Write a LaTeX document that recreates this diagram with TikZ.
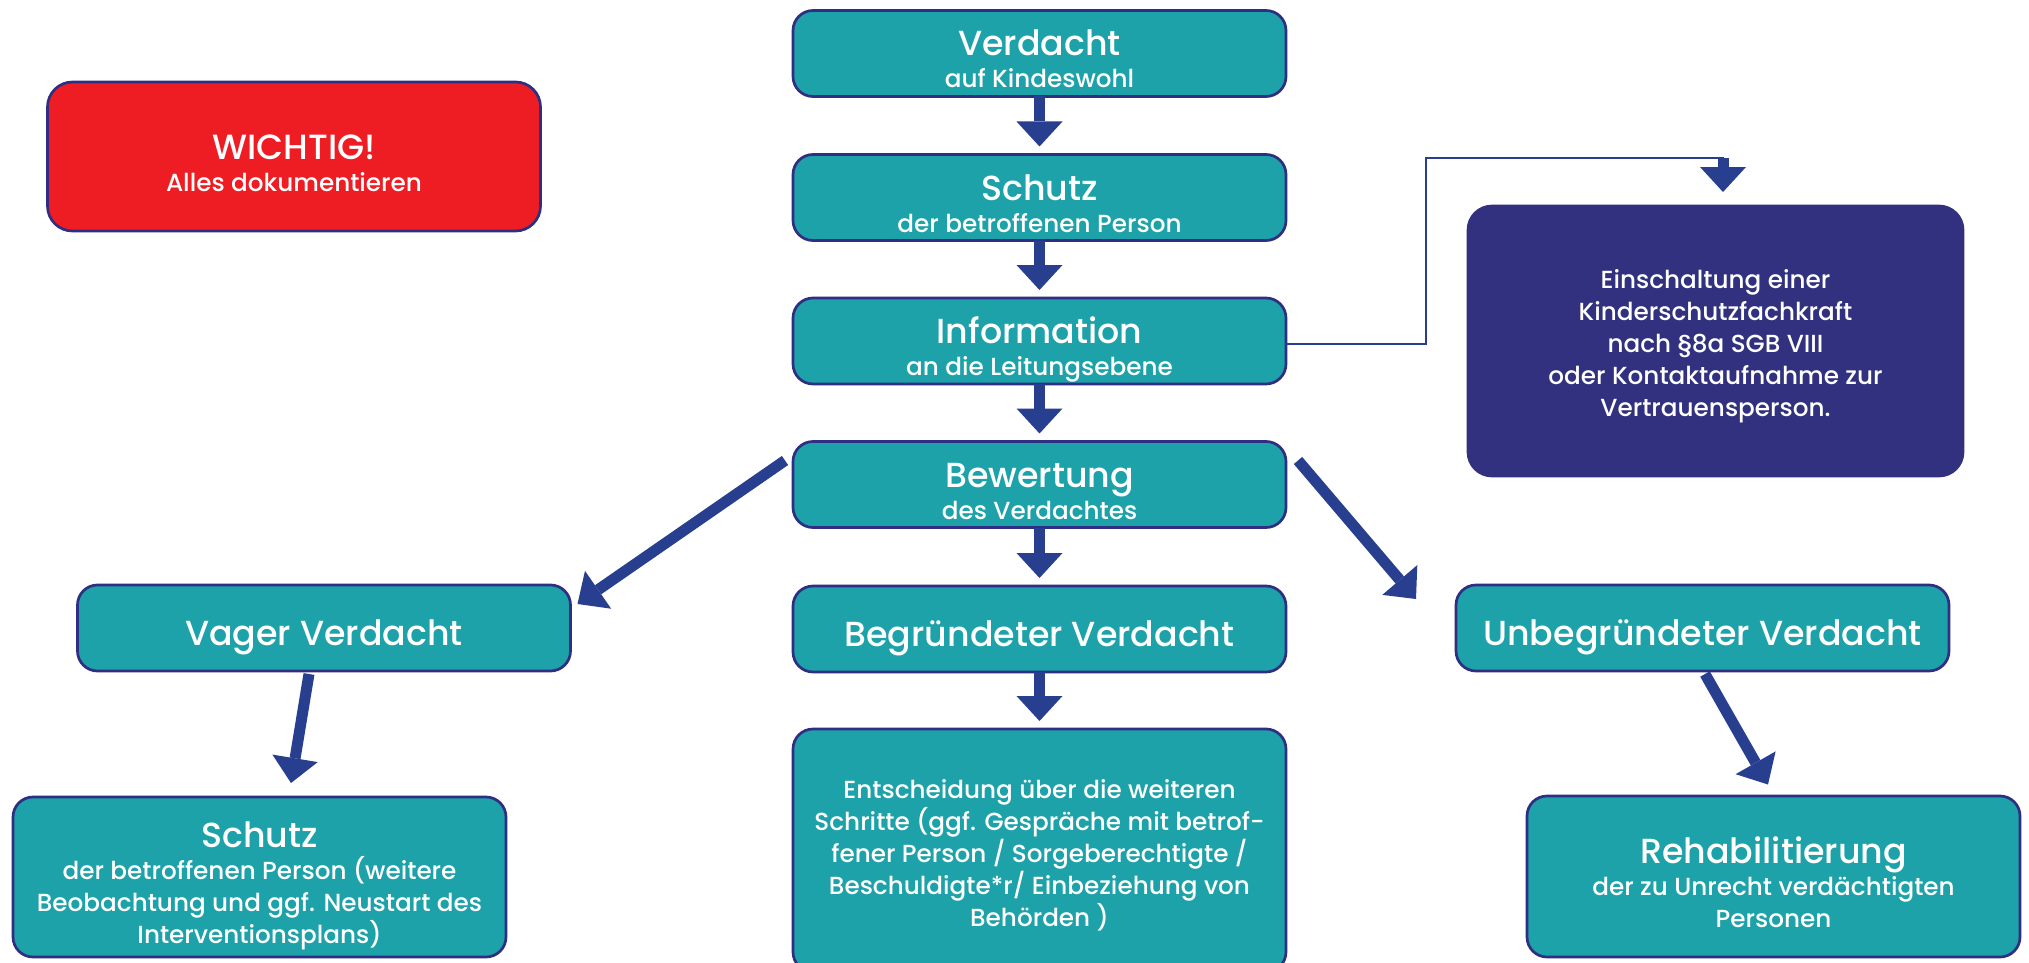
\documentclass[tikz,border=0pt]{standalone}
\usepackage{fontspec}
\IfFontExistsTF{Poppins Medium}{%
  \setmainfont{Poppins Medium}
  \newcommand\bigsz{34.8}\newcommand\smsz{24.7}\newcommand\wsz{35}}{%
  \setmainfont{Poppins}
  \newcommand\bigsz{35.6}\newcommand\smsz{25.3}\newcommand\wsz{36}}
\usetikzlibrary{arrows.meta}
\definecolor{tealbox}{RGB}{29,162,170}
\definecolor{navyline}{RGB}{46,46,130}
\definecolor{arrowblue}{RGB}{40,62,143}
\definecolor{darkbox}{RGB}{49,49,128}
\definecolor{redbox}{RGB}{238,29,36}
\newcommand\bigt{\fontsize{\bigsz}{32}\selectfont}
\newcommand\Tb{\rule{0pt}{44pt}}
\newcommand\Ts{\rule{0pt}{30pt}}
\newcommand\Bt{\rule[-7pt]{0pt}{7pt}}
\begin{document}
\begin{tikzpicture}[x=1pt,y=-1pt,
 box/.style={draw=navyline,line width=2.7pt,fill=tealbox,rounded corners=20pt,text=white,align=center,inner sep=0pt,outer sep=0pt,minimum width=493pt,minimum height=86pt,font=\fontsize{\smsz}{32}\selectfont},
 arr/.style={draw=arrowblue,line width=11pt,-{Triangle[width=46pt,length=25pt,line width=0pt]}},
 wire/.style={draw=arrowblue,line width=2.4pt}]
\clip (0,0) rectangle (2029,963);
\fill[white] (0,0) rectangle (2029,963);
% central column
\node[box] (verd) at (1039.5,53.5) {{\Tb\bigt Verdacht}\\auf Kindeswohl\Bt};
\node[box] (schutzA) at (1039.5,197.5) {{\Tb\bigt Schutz}\\der betroffenen Person\Bt};
\node[box] (info) at (1039.5,341) {{\Tb\bigt Information}\\an die Leitungsebene\Bt};
\node[box] (bew) at (1039.5,484.5) {{\Tb\bigt Bewertung}\\des Verdachtes\Bt};
\node[box] (begr) at (1039.5,629) {\Tb\bigt Begründeter Verdacht\Bt};
\node[box,minimum height=243pt] (ents) at (1039.5,850.5) {\Ts Entscheidung über die weiteren\\Schritte (ggf. Gespräche mit betrof-\\fener Person / Sorgeberechtigte /\\Beschuldigte*r/ Einbeziehung von\\Behörden )\Bt};
% left column
\node[box,fill=redbox,rounded corners=25pt,minimum height=149pt] (wichtig) at (294,156.5) {{\Tb\fontsize{\wsz}{32}\selectfont WICHTIG!}\\Alles dokumentieren\Bt};
\node[box] (vager) at (324,628) {\Tb\bigt Vager Verdacht\Bt};
\node[box,minimum height=160pt] (schutzB) at (259.5,877) {{\Tb\bigt Schutz}\\der betroffenen Person (weitere\\Beobachtung und ggf. Neustart des\\Interventionsplans)\Bt};
% right column
\node[box,draw=darkbox,fill=darkbox,rounded corners=24pt,minimum width=495pt,minimum height=270pt] (fach) at (1715.5,341) {\Ts Einschaltung einer\\Kinderschutzfachkraft\\nach §8a SGB VIII\\oder Kontaktaufnahme zur\\Vertrauensperson.\Bt};
\node[box] (unbeg) at (1702.5,628) {\Tb\bigt Unbegründeter Verdacht\Bt};
\node[box,minimum height=161pt] (rehab) at (1773.5,876.5) {{\Tb\bigt Rehabilitierung}\\der zu Unrecht verdächtigten\\Personen\Bt};
% arrows
\draw[arr,shorten >=8pt] (verd.south) -- (schutzA.north);
\draw[arr,shorten >=8pt] (schutzA.south) -- (info.north);
\draw[arr,shorten >=8pt] (info.south) -- (bew.north);
\draw[arr,shorten >=8pt] (bew.south) -- (begr.north);
\draw[arr,shorten >=8pt] (begr.south) -- (ents.north);
\draw[arr] ([shift={(-8,19)}]bew.north west) -- ([shift={(7,19)}]vager.north east);
\draw[arr] ([shift={(12,19)}]bew.north east) -- ([shift={(-40,14)}]unbeg.north west);
\draw[arr] ([shift={(-15,3)}]vager.south) -- ([shift={(31.5,-14)}]schutzB.north);
\draw[arr] ([shift={(2.5,3)}]unbeg.south) -- ([shift={(-5.5,-11.5)}]rehab.north);
% connector to the Kinderschutzfachkraft box
\coordinate (w1) at (1426,344);
\coordinate (w2) at (1426,158);
\coordinate (w3) at (1723,158);
\draw[wire] (info.east |- w1) -- (w1) -- (w2) -- ([xshift=1pt]w3);
\draw[arr,shorten >=14pt] (w3) -- (w3 |- fach.north);
\end{tikzpicture}
\end{document}
